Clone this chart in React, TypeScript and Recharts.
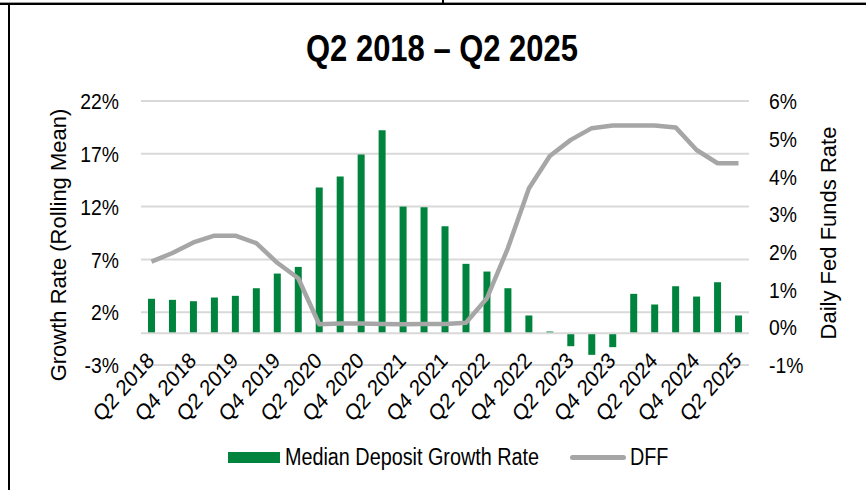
import { ComposedChart, Bar, Line, XAxis, YAxis, CartesianGrid, ReferenceLine, Legend } from 'recharts';

const FONT = '"Liberation Sans", Arial, sans-serif';
// the source picture is squeezed horizontally, so text is drawn narrower
const SQUEEZE = 0.86;

const quarters = [
  'Q2 2018', 'Q3 2018', 'Q4 2018', 'Q1 2019', 'Q2 2019', 'Q3 2019', 'Q4 2019', 'Q1 2020',
  'Q2 2020', 'Q3 2020', 'Q4 2020', 'Q1 2021', 'Q2 2021', 'Q3 2021', 'Q4 2021', 'Q1 2022',
  'Q2 2022', 'Q3 2022', 'Q4 2022', 'Q1 2023', 'Q2 2023', 'Q3 2023', 'Q4 2023', 'Q1 2024',
  'Q2 2024', 'Q3 2024', 'Q4 2024', 'Q1 2025', 'Q2 2025',
];

// median deposit growth rate, rolling mean (%)
const depositGrowth = [
  3.27, 3.17, 3.04, 3.39, 3.55, 4.27, 5.66, 6.29,
  13.8, 14.85, 16.93, 19.23, 12.0, 11.94, 10.14, 6.58,
  5.85, 4.27, 1.69, 0.17, -1.22, -2.04, -1.31, 3.74,
  2.73, 4.46, 3.48, 4.84, 1.69,
];

// daily fed funds rate (%)
const dff = [
  1.74, 1.97, 2.25, 2.43, 2.43, 2.23, 1.71, 1.3,
  0.08, 0.1, 0.1, 0.09, 0.08, 0.09, 0.09, 0.12,
  0.77, 2.1, 3.68, 4.54, 4.97, 5.28, 5.35, 5.35,
  5.35, 5.3, 4.7, 4.35, 4.35,
];

const leftTicks = [-3, 2, 7, 12, 17, 22];
const rightTicks = [-1, 0, 1, 2, 3, 4, 5, 6];

const seriesNames = ['Median Deposit Growth Rate', 'DFF'];

const data = quarters.map((q, i) => ({ quarter: q, growth: depositGrowth[i], dff: dff[i] }));

const GREEN = '#00843d';
const GRAY = '#a6a6a6';

const QuarterTick = (props: any) => {
  const { x, y, payload } = props;
  const px = x + 4;
  const py = y - 3;
  return (
    <text x={0} y={0} textAnchor="end" transform={`translate(${px} ${py}) scale(0.89 1) rotate(-45)`}
      fontSize={22.5} fontFamily={FONT} fill="#000">
      {payload.value}
    </text>
  );
};

const ValueTick = (props: any) => {
  const { x, y, payload, textAnchor } = props;
  return (
    <text x={0} y={0} dy="0.36em" textAnchor={textAnchor} transform={`translate(${x} ${y}) scale(${SQUEEZE} 1)`}
      fontSize={22.5} fontFamily={FONT} fill="#000">
      {`${payload.value}%`}
    </text>
  );
};

const AxisTitle = ({ cx, cy, text }: { cx: number; cy: number; text: string }) => (
  <text x={cx} y={cy} textAnchor="middle" transform={`rotate(-90 ${cx} ${cy})`}
    fontSize={22} fontFamily={FONT} fill="#000">
    {text}
  </text>
);

const renderLegend = (props: any) => {
  const items = [...(props.payload ?? [])].sort(
    (a: any, b: any) => seriesNames.indexOf(a.value) - seriesNames.indexOf(b.value));
  const lefts = [228, 570];
  return (
    <div style={{ position: 'relative', height: 24, fontFamily: FONT, fontSize: 23, color: '#000' }}>
      {items.map((it: any, i: number) => (
        <div key={it.value} style={{ position: 'absolute', left: lefts[i], top: 0, height: 24, display: 'flex', alignItems: 'center', whiteSpace: 'nowrap' }}>
          {it.type === 'line' ? (
            <span style={{ width: 56, height: 5, borderRadius: 3, background: GRAY, marginRight: 4 }} />
          ) : (
            <span style={{ width: 52, height: 11, background: GREEN, marginRight: 5 }} />
          )}
          <span style={{ display: 'inline-block', transform: `scaleX(${SQUEEZE})`, transformOrigin: 'left center' }}>
            {it.value}
          </span>
        </div>
      ))}
    </div>
  );
};

export default function App() {
  return (
    <div style={{ position: 'relative', width: 866, height: 490, background: '#fff', overflow: 'hidden' }}>
      <style>{'body{margin:0}'}</style>
      {/* frame pieces */}
      <div style={{ position: 'absolute', left: 0, top: 2, width: 866, height: 1, background: '#9a9a9a' }} />
      <div style={{ position: 'absolute', left: 0, top: 3, width: 866, height: 2, background: '#000' }} />
      <div style={{ position: 'absolute', left: 442, top: 0, width: 2, height: 4, background: '#000' }} />
      <div style={{ position: 'absolute', left: 8, top: 4, width: 2, height: 486, background: '#000' }} />
      <div style={{ position: 'absolute', left: 0, top: 31, width: 884, textAlign: 'center', fontFamily: FONT,
        fontWeight: 'bold', fontSize: 36, lineHeight: '36px', color: '#000', transform: `scaleX(${SQUEEZE})`,
        transformOrigin: '442px 0' }}>
        Q2 2018 – Q2 2025
      </div>
      <ComposedChart width={866} height={490} data={data}
        margin={{ top: 101, right: 47, bottom: 65, left: 81 }}>
        <CartesianGrid yAxisId="left" vertical={false} stroke="#d9d9d9" strokeWidth={2} />
        <XAxis dataKey="quarter" interval={1} height={60} axisLine={false} tickLine={false}
          tickSize={0} tickMargin={0} tick={<QuarterTick />} />
        <YAxis yAxisId="left" width={60} domain={[-3, 22]} ticks={leftTicks} interval={0}
          axisLine={false} tickLine={false} tickSize={0} tickMargin={22}
          tick={<ValueTick textAnchor="end" />}
          label={<AxisTitle cx={66} cy={245} text="Growth Rate (Rolling Mean)" />} />
        <YAxis yAxisId="right" orientation="right" width={70} domain={[-1, 6]} ticks={rightTicks} interval={0}
          axisLine={false} tickLine={false} tickSize={0} tickMargin={20}
          tick={<ValueTick textAnchor="start" />}
          label={<AxisTitle cx={836} cy={233} text="Daily Fed Funds Rate" />} />
        <ReferenceLine yAxisId="left" y={0} stroke="#d9d9d9" strokeWidth={2} />
        <Bar yAxisId="left" dataKey="growth" name={seriesNames[0]} fill={GREEN} barSize={7}
          isAnimationActive={false} />
        <Line yAxisId="right" dataKey="dff" name={seriesNames[1]} type="linear" stroke={GRAY} strokeWidth={4.5}
          dot={false} activeDot={false} strokeLinejoin="round" isAnimationActive={false} />
        <Legend layout="horizontal" verticalAlign="middle" align="center" content={renderLegend}
          wrapperStyle={{ position: 'absolute', left: 0, top: 445, width: 866 }} />
      </ComposedChart>
    </div>
  );
}
